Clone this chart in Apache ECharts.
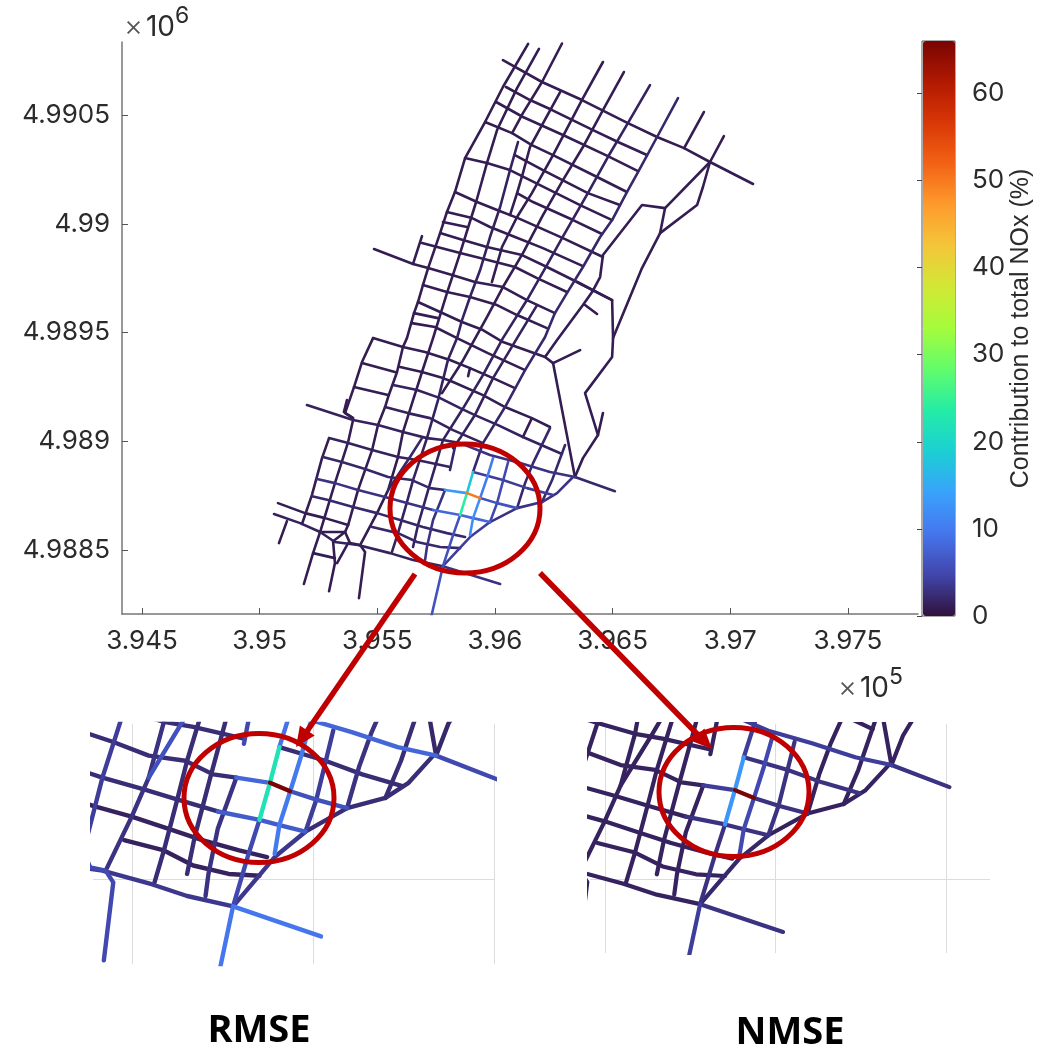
<!DOCTYPE html>
<html><head><meta charset="utf-8">
<style>html,body{margin:0;padding:0;background:#fff}#c{width:1050px;height:1047px}</style>
<script src="https://cdn.jsdelivr.net/npm/echarts@6/dist/echarts.min.js"></script>
</head><body><div id="c"></div>
<script>
// Road centrelines: flat easting,northing lists (metres)
const roads = [
/*0 A1*/[396141,4990828,396034,4990630,395958,4990469,395873,4990303,395830,4990147,395796,4990055,395767,4989958,395716,4989797,395694,4989719,395673,4989641,395656,4989590,395626,4989475,395609,4989434,395584,4989319,395546,4989204,395533,4989158,395503,4989075,395478,4988960,395418,4988776,395376,4988615,395363,4988583],
/*1 A2*/[396187,4990805,396094,4990625,396009,4990432,395966,4990280,395920,4990101,395852,4989866,395796,4989682,395737,4989475,395690,4989319,395652,4989190,395609,4989043,395588,4988928,395546,4988776,395499,4988670,395427,4988523],
/*2 A3*/[396285,4990830,396200,4990653,396119,4990510,396073,4990418],
/*3 A3b*/[396098,4990377,396064,4990248,396022,4990078,395979,4989940,395937,4989788,395894,4989664,395860,4989558,395839,4989475,395800,4989374,395758,4989190,395711,4989015,395652,4988822,395626,4988721,395588,4988578,395562,4988491],
/*4 A4*/[396277,4990607,396200,4990455,396149,4990354,396119,4990234,396094,4990142,396064,4990041],
/*5 A5*/[396459,4990745,396374,4990579,396247,4990317,396157,4990142,396094,4990032,396030,4989894,395987,4989733],
/*6 A6*/[396548,4990699,396459,4990524,396374,4990354,396289,4990202,396204,4990041,396119,4989866,396034,4989710,395966,4989572,395860,4989365,395775,4989222],
/*7 diag*/[395690,4989015,395639,4988928,395546,4988776],
/*8 A7*/[396659,4990639,396565,4990464,396480,4990308,396395,4990142,396285,4989935,396221,4989811,396136,4989650,396034,4989475,395949,4989305,395860,4989144,395779,4989006,395754,4988914,395716,4988776,395673,4988615,395652,4988514],
/*9 A8*/[396179,4989627,396094,4989475,395992,4989291,395915,4989121,395852,4989015,395822,4988969],
/*10 A9a*/[396778,4990579,396689,4990400,396608,4990239,396561,4990147,396498,4990018,396447,4989940,396374,4989802,396306,4989682,396255,4989590,396213,4989480,396128,4989328,396043,4989158,395949,4988992,395907,4988859],
/*11 A9b1*/[395907,4988859,395881,4988762],
/*12 A9b2*/[395881,4988762,395852,4988661],
/*13 A9c*/[395852,4988661,395822,4988569,395779,4988426],
/*14 A9d*/[395779,4988426,395728,4988187],
/*15 A10*/[396888,4990515,396804,4990349],
/*16 A11*/[396973,4990404,396914,4990285],
/*17 E1*/[396914,4990285,396723,4990073,396702,4989958,396625,4989797,396502,4989475,396498,4989388,396383,4989222,396438,4989029,396374,4988923,396340,4988836],
/*18 E2*/[396914,4990285,396884,4990170,396859,4990087,396702,4989958],
/*19 E3*/[396723,4990073,396625,4990087,396459,4989857,396447,4989756,396413,4989687,396374,4989627,396264,4989466,396213,4989388],
/*20 E4*/[396349,4989733,396498,4989650,396502,4989475],
/*21 E5*/[396383,4989627,396434,4989586],
/*22 E6*/[396459,4989130,396438,4989029],
/*23 E7*/[396247,4989360,396362,4989420],
/*24 E8*/[396247,4989360,396340,4988836],
/*25 S0*/[396034,4990754,396200,4990653,396370,4990570,396565,4990464,396689,4990400,396804,4990349,396914,4990285,397097,4990184],
/*26 S1*/[396047,4990630,396149,4990570,396243,4990524,396417,4990432,396523,4990377,396646,4990317],
/*27 S2*/[396005,4990561,396119,4990492,396289,4990409,396480,4990312,396608,4990243],
/*28 S3*/[395958,4990469,396073,4990418,396157,4990363,396247,4990317,396434,4990216,396561,4990147],
/*29 S4*/[396085,4990317,396204,4990248,396395,4990142,396531,4990087],
/*30 S5*/[395873,4990303,395966,4990280,396064,4990248,396149,4990202,396362,4990087,396498,4990018],
/*31 S6*/[396094,4990142,396162,4990101,396332,4990018,396455,4989954],
/*32 S7*/[395830,4990147,395924,4990101,396009,4990064,396098,4990027,396289,4989935,396459,4989848],
/*33 S8*/[395796,4990055,395903,4990027,395979,4989986,396064,4989949,396204,4989889,396374,4989806],
/*34 S9*/[395779,4990009,395881,4989986],
/*35 S10*/[395767,4989958,395864,4989926,395966,4989894,396115,4989857,396221,4989802,396349,4989733,396498,4989650],
/*36 S11*/[395690,4989912,395852,4989866,395937,4989843,396085,4989802,396179,4989751,396306,4989687],
/*37 S11b*/[395690,4989944,395652,4989816],
/*38 S12*/[395486,4989885,395652,4989816,395716,4989797,395818,4989765,395915,4989733,396034,4989710,396136,4989650,396255,4989590],
/*39 S13*/[395694,4989719,395796,4989687,395894,4989664,396009,4989627,396094,4989581,396221,4989521],
/*40 S14*/[395673,4989641,395767,4989595,395860,4989549,395949,4989512,396034,4989457,396213,4989388,396247,4989360],
/*41 S15*/[395656,4989590,395758,4989567],
/*42 S16*/[395647,4989544,395745,4989526,395839,4989475,395970,4989406,396128,4989328],
/*43 RA*/[395482,4989475,395609,4989434,395703,4989411,395809,4989374,395894,4989337,395992,4989291,396085,4989245],
/*44 Bulge*/[395482,4989475,395435,4989365,395401,4989250,395363,4989130,395397,4989107],
/*45 RB1*/[395435,4989360,395575,4989319],
/*46 RB2*/[395597,4989342,395690,4989319,395779,4989291,395822,4989273,395949,4989213,396043,4989158,396157,4989107,396234,4989066],
/*47 RC1*/[395401,4989250,395546,4989213],
/*48 RC2*/[395567,4989259,395669,4989236,395767,4989199,395852,4989153,395915,4989121,396013,4989075,396119,4989020,396285,4988942],
/*49 RD*/[395533,4989158,395630,4989130,395724,4989107,395822,4989052,395949,4988992],
/*50 RE-w*/[395201,4989167,395397,4989098,395503,4989075,395609,4989043,395711,4989015,395779,4989006,395852,4988992],
/*51 RE-e*/[395852,4988992,395979,4988937,396107,4988900,396234,4988859,396340,4988836],
/*52 RE-x*/[396340,4988836,396510,4988771],
/*53 RF*/[395295,4989015,395376,4988992,395478,4988960,395588,4988928,395669,4988914,395809,4988882],
/*54 stub*/[395830,4988974,395809,4988868],
/*55 RG-w*/[395269,4988928,395350,4988905,395448,4988873,395546,4988836,395647,4988822,395724,4988785,395788,4988776],
/*56 hot1*/[395788,4988776,395881,4988762],
/*57 hot2*/[395881,4988762,395937,4988739],
/*58 RG-e*/[395937,4988739,396009,4988716,396094,4988693],
/*59 RH-w*/[395244,4988827,395320,4988808,395418,4988776,395533,4988744,395626,4988716,395737,4988684],
/*60 RH-e*/[395737,4988684,395852,4988661,395907,4988647,395979,4988629],
/*61 RI*/[395223,4988748,395291,4988730,395397,4988698,395499,4988670,395597,4988638,395694,4988606,395796,4988578,395873,4988560],
/*62 RJ*/[395078,4988716,395193,4988670,395278,4988647,395376,4988615],
/*63 RK*/[395478,4988606,395588,4988578,395669,4988537,395767,4988514,395852,4988509],
/*64 RGL-w*/[395061,4988666,395172,4988624,395257,4988583,395320,4988537,395418,4988523,395554,4988486,395652,4988454,395779,4988426],
/*65 RGL-e*/[395779,4988426,396022,4988344],
/*66 CircleTop*/[395907,4988859,396034,4988822,396136,4988785,396247,4988753],
/*67 V3*/[395788,4988776,395737,4988638,395711,4988514,395703,4988454],
/*68 V5a*/[395992,4988923,395966,4988831,395937,4988739],
/*69 V5b*/[395937,4988739,395907,4988647,395894,4988569],
/*70 V6*/[396056,4988905,396009,4988716,395979,4988629],
/*71 V7*/[396234,4989061,396162,4988900,396128,4988808,396094,4988693],
/*72 V8*/[396298,4988983,396243,4988822,396200,4988721],
/*73 short*/[396157,4989107,396119,4989020],
/*74 CurveA*/[395779,4988426,395894,4988560,395979,4988629],
/*75 CurveB*/[395979,4988629,396094,4988693,396200,4988721,396264,4988762,396332,4988836],
/*76 W1*/[395295,4989015,395265,4988923,395222,4988753,395180,4988620],
/*77 W2*/[395397,4989098,395376,4988997,395320,4988808,395257,4988583,395227,4988486,395188,4988344],
/*78 stub*/[395371,4989190,395358,4989135,395397,4989107],
/*79 C1*/[395257,4988583,395363,4988583,395312,4988541,395320,4988440,395295,4988311],
/*80 C2*/[395363,4988583,395384,4988532,395427,4988523,395448,4988491,395422,4988279],
/*81 C3*/[395376,4988532,395329,4988440],
/*82 C4*/[395227,4988486,395320,4988463],
/*83 stub2*/[395116,4988633,395082,4988532],
/*84 stub3*/[395886,4989300,395894,4989337]
];
// Contribution to total NOx (%) of each road above, for each of the three maps
const mainValues = [1,1,1,1.5,1,1,1,2,1.5,1.5, 2,18,24,6,6,1,1,1,1,1, 1,1,1,1,1, 1,1,1,1,1,1,1,1,1,1, 1,1,1,1,1,1,1,1,1,1, 1,1,1,1.5,1.5, 1.5,3,2,1.5,2,2,13,50,6, 3,8,2,1,2,1.5,3,4,3,10,12,5,2,2,1,4,3, 1,1,1,1,1,1,1,1,1];
const rmseValues = [4,3,2,2.5,2,2,2,6,2.5,5, 9,22,22,5,9.5,2,2,2,2,2, 2,2,2,2,2, 2,2,2,2,2,2,2,2,2,2, 2,2,2,2,2,2,2,2,2,2, 2,2,2,2.5,2.5, 2.5,8,5,2.5,5,2.5,8,66,6, 2.5,7,1.5,2.5,1.5,3.5,9.5,2.5,3,10,10,4,3,2.5,2,3.5,2.5, 2.5,2.5,2.5,2.5,5,2.5,2.5,2.5,2];
const nmseValues = [1.5,1.5,1.5,1.5,1.5,1.5,1.5,1.5,1.5,1.5, 4,13,13,3,4,1.5,1.5,1.5,1.5,1.5, 1.5,1.5,1.5,1.5,1.5, 1.5,1.5,1.5,1.5,1.5,1.5,1.5,1.5,1.5,1.5, 1.5,1.5,1.5,1.5,1.5,1.5,1.5,1.5,1.5,1.5, 1.5,1.5,1.5,1.5,1.5, 1.5,4,3,1.5,1.5,1.5,4,66,3, 1.5,3,1.5,1.5,1.5,1.5,3,3,1.5,5,5,3,1.5,1.5,1.5,2,1.5, 1.5,1.5,1.5,1.5,1.5,1.5,1.5,1.5,1.5];
const xTicks = [394500,395000,395500,396000,396500,397000,397500];
const yTicks = [4988500,4989000,4989500,4990000,4990500];
const cbarTicks = [0,10,20,30,40,50,60];
const cbarMax = 66;
const turbo = ['#30123b','#4145ab','#4675ed','#39a2fc','#1bcfd4','#24eca6','#61fc6c','#a4fc3b','#d1e834','#f3c63a','#fe9b2d','#f36315','#d93806','#b11901','#7a0403'];
const FONT = 'Inter', TXT = '#2b2b2b';

function pairs(f){const o=[];for(let i=0;i<f.length;i+=2)o.push([f[i],f[i+1]]);return o;}
function mapSeries(name,vals,idx,width){
  const data = roads.map((r,i)=>({coords:pairs(r),value:vals[i]})).sort((a,b)=>a.value-b.value);
  return {type:'lines',name,coordinateSystem:'cartesian2d',xAxisIndex:idx,yAxisIndex:idx,polyline:true,clip:true,
    silent:true,animation:false,data,lineStyle:{width,opacity:1,cap:'round',join:'round'}};
}
function hiddenAxisBase(min,max,grid,ticks){
  return {type:'value',gridIndex:grid,min,max,axisLine:{show:false},axisLabel:{show:false},
    axisTick:{show:false,customValues:ticks},splitLine:{show:true,lineStyle:{color:'#dcdcdc',width:1}}};
}
const red='#c00000';
function ell(cx,cy){return {type:'ellipse',z:100,shape:{cx,cy,rx:75,ry:64.5},style:{fill:null,stroke:red,lineWidth:5}};}
const powRich=(e)=>({text:'{x|×}{t|10}{s|'+e+'}',fill:TXT,rich:{
   x:{fontFamily:FONT,fontSize:29,fontWeight:300,fill:'#555',padding:[0,3,0,0]},
   t:{fontFamily:FONT,fontSize:28,fill:TXT},
   s:{fontFamily:FONT,fontSize:23,fill:TXT,padding:[0,0,22,0]}}});

const chart = echarts.init(document.getElementById('c'),null,{renderer:'canvas'});
chart.setOption({
  animation:false,backgroundColor:'#fff',
  grid:[
    {left:122,top:42,width:796,height:572},
    {left:93,top:724,width:401,height:240},
    {left:590,top:724,width:400,height:229},
    {left:922,top:41,width:33,height:575,show:true,borderColor:'#555',borderWidth:1,backgroundColor:'transparent'}
  ],
  xAxis:[
    {type:'value',gridIndex:0,min:394415,max:397798,position:'bottom',
     axisLine:{show:true,onZero:false,lineStyle:{color:'#777',width:1.5}},
     axisTick:{show:true,inside:true,length:6,customValues:xTicks,lineStyle:{color:'#555'}},
     axisLabel:{show:true,customValues:xTicks,margin:14,fontFamily:FONT,fontSize:26,color:TXT,
       formatter:v=>String(parseFloat((v/1e5).toFixed(4)))},
     splitLine:{show:false}},
    hiddenAxisBase(395392,396500,1,[395500,396000,396500]),
    hiddenAxisBase(395456,396629,2,[395500,396000,396500]),
    {type:'value',gridIndex:3,min:0,max:1,show:false}
  ],
  yAxis:[
    {type:'value',gridIndex:0,min:4988206,max:4990837,position:'left',
     axisLine:{show:true,onZero:false,lineStyle:{color:'#777',width:1.5}},
     axisTick:{show:true,inside:true,length:6,customValues:yTicks,lineStyle:{color:'#555'}},
     axisLabel:{show:true,customValues:yTicks,margin:12,fontFamily:FONT,fontSize:26,color:TXT,padding:[2,0,0,0],
       formatter:v=>String(parseFloat((v/1e6).toFixed(4)))},
     splitLine:{show:false}},
    hiddenAxisBase(4988269,4988922,1,[4988500]),
    hiddenAxisBase(4988282,4988957,2,[4988500]),
    {type:'value',gridIndex:3,min:0,max:cbarMax,position:'right',z:10,
     splitLine:{show:false},axisLine:{show:false},
     axisTick:{show:true,inside:true,length:5,customValues:cbarTicks,lineStyle:{color:'#444'}},
     axisLabel:{show:true,margin:17,fontFamily:FONT,fontSize:26,color:TXT,padding:[4,0,0,0],customValues:cbarTicks},
     name:'Contribution to total NOx (%)',nameLocation:'middle',nameRotate:90,nameGap:52,
     nameTextStyle:{fontFamily:'Liberation Sans',fontSize:25,color:TXT}}
  ],
  visualMap:[{type:'continuous',show:true,seriesIndex:[0,1,2],dimension:'value',min:0,max:cbarMax,
    left:923,top:41,itemWidth:32,itemHeight:575,padding:0,calculable:false,realtime:false,hoverLink:false,
    text:null,showLabel:false,inRange:{color:turbo},textStyle:{fontSize:0,color:'transparent'},z:4}],
  series:[mapSeries('Main',mainValues,0,2.6),mapSeries('RMSE',rmseValues,1,4.4),mapSeries('NMSE',nmseValues,2,4.2)],
  graphic:[
    ell(465,508.5),ell(259,798),ell(734,792),
    {type:'line',z:100,shape:{x1:415,y1:574,x2:303,y2:737},style:{stroke:red,lineWidth:5.5}},
    {type:'polygon',z:100,shape:{points:[[296,747],[314.7,735.6],[299.9,725.4]]},style:{fill:red}},
    {type:'line',z:100,shape:{x1:540,y1:573,x2:703,y2:740},style:{stroke:red,lineWidth:5.5}},
    {type:'polygon',z:100,shape:{points:[[712,749],[704.4,728.4],[691.6,741]]},style:{fill:red}},
    {type:'text',z:100,x:124,y:5,style:powRich(6)},
    {type:'text',z:100,x:838,y:666,style:powRich(5)},
    {type:'text',z:100,x:259,y:1031,style:{text:'RMSE',fill:'#000',font:'bold 38px "Open Sans"',textAlign:'center',textVerticalAlign:'middle'}},
    {type:'text',z:100,x:790,y:1033,style:{text:'NMSE',fill:'#000',font:'bold 38px "Open Sans"',textAlign:'center',textVerticalAlign:'middle'}}
  ]
});
</script></body></html>
